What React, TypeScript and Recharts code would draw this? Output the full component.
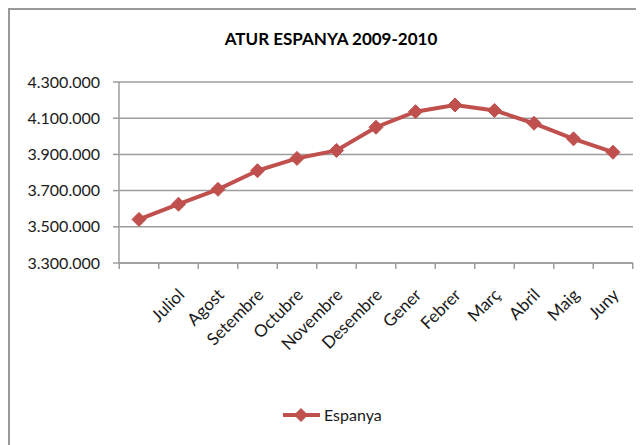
import { CartesianGrid, Line, LineChart, XAxis, YAxis } from "recharts";

const months = [
  "",
  "Juliol",
  "Agost",
  "Setembre",
  "Octubre",
  "Novembre",
  "Desembre",
  "Gener",
  "Febrer",
  "Març",
  "Abril",
  "Maig",
  "Juny",
];
const espanya = [
  3541000, 3625000, 3707000, 3810000, 3878000, 3922000, 4050000, 4136000,
  4173000, 4143000, 4072000, 3986000, 3912000,
];
const yTicks = [3300000, 3500000, 3700000, 3900000, 4100000, 4300000];

const data = months.map((mes, i) => ({ mes, espanya: espanya[i] }));

const RED = "#c0504d";
const GRID = "#9c9c9c";
const FONT = "Lato, 'Open Sans', sans-serif";
const HALF = 19.77;

const fmt = (v: number) => String(v).replace(/\B(?=(\d{3})+(?!\d))/g, ".");

const Diamond = (props: any) => {
  const { cx, cy } = props;
  if (cx == null || cy == null) return null;
  const r = 7;
  return (
    <polygon
      points={`${cx},${cy - r} ${cx + r},${cy} ${cx},${cy + r} ${cx - r},${cy}`}
      fill={RED}
      stroke={RED}
    />
  );
};

const MonthTick = (props: any) => {
  const { x, y, payload, index } = props;
  const tx = x + 7;
  const ty = y + 33;
  return (
    <g>
      {index === 0 && (
        <line x1={x - HALF} y1={y} x2={x - HALF} y2={y + 6} stroke={GRID} strokeWidth={1.5} />
      )}
      <line x1={x + HALF} y1={y} x2={x + HALF} y2={y + 6} stroke={GRID} strokeWidth={1.5} />
      <text
        x={tx}
        y={ty}
        textAnchor="end"
        transform={`rotate(-45 ${tx} ${ty})`}
        fontSize={17}
        fontFamily={FONT}
        fill="#1a1a1a"
      >
        {payload.value}
      </text>
    </g>
  );
};

export default function App() {
  return (
    <div style={{ position: "relative", width: 636, height: 437, overflow: "hidden" }}>
      <div
        style={{
          position: "absolute",
          left: 0,
          top: 0,
          width: 700,
          height: 500,
          borderTop: "2px solid #999",
          borderLeft: "2px solid #999",
        }}
      />
      <div
        style={{
          position: "absolute",
          left: 123,
          width: 400,
          top: 20,
          textAlign: "center",
          fontFamily: FONT,
          fontWeight: 700,
          fontSize: 17,
          color: "#000",
        }}
      >
        ATUR ESPANYA 2009-2010
      </div>
      <div style={{ position: "absolute", left: 0, top: 0 }}>
        <LineChart
          width={636}
          height={437}
          data={data}
          margin={{ top: 74, right: 11, bottom: 0, left: 0 }}
        >
          <CartesianGrid vertical={false} stroke={GRID} strokeWidth={1.5} />
          <XAxis
            dataKey="mes"
            interval={0}
            height={182}
            padding={{ left: 20, right: 20 }}
            axisLine={{ stroke: GRID, strokeWidth: 1.5 }}
            tickLine={false}
            tickSize={0}
            tickMargin={0}
            tick={<MonthTick />}
          />
          <YAxis
            width={111}
            domain={[3300000, 4300000]}
            ticks={yTicks}
            interval={0}
            tickFormatter={fmt}
            axisLine={{ stroke: GRID, strokeWidth: 1.5 }}
            tickLine={{ stroke: GRID, strokeWidth: 1.5 }}
            tickSize={6}
            tickMargin={13}
            tick={{ fontSize: 16, fontFamily: FONT, fill: "#1a1a1a" }}
          />
          <Line
            dataKey="espanya"
            name="Espanya"
            stroke={RED}
            strokeWidth={4}
            dot={<Diamond />}
            activeDot={false}
            isAnimationActive={false}
          />
        </LineChart>
      </div>
      <div
        style={{
          position: "absolute",
          left: 275,
          top: 397,
          display: "flex",
          alignItems: "center",
          fontFamily: FONT,
          fontSize: 16,
          color: "#1a1a1a",
        }}
      >
        <svg width={40} height={16}>
          <line x1={0} y1={8} x2={37} y2={8} stroke={RED} strokeWidth={4} />
          <polygon points="18,1 25,8 18,15 11,8" fill={RED} />
        </svg>
        <span style={{ marginLeft: 1 }}>Espanya</span>
      </div>
    </div>
  );
}
